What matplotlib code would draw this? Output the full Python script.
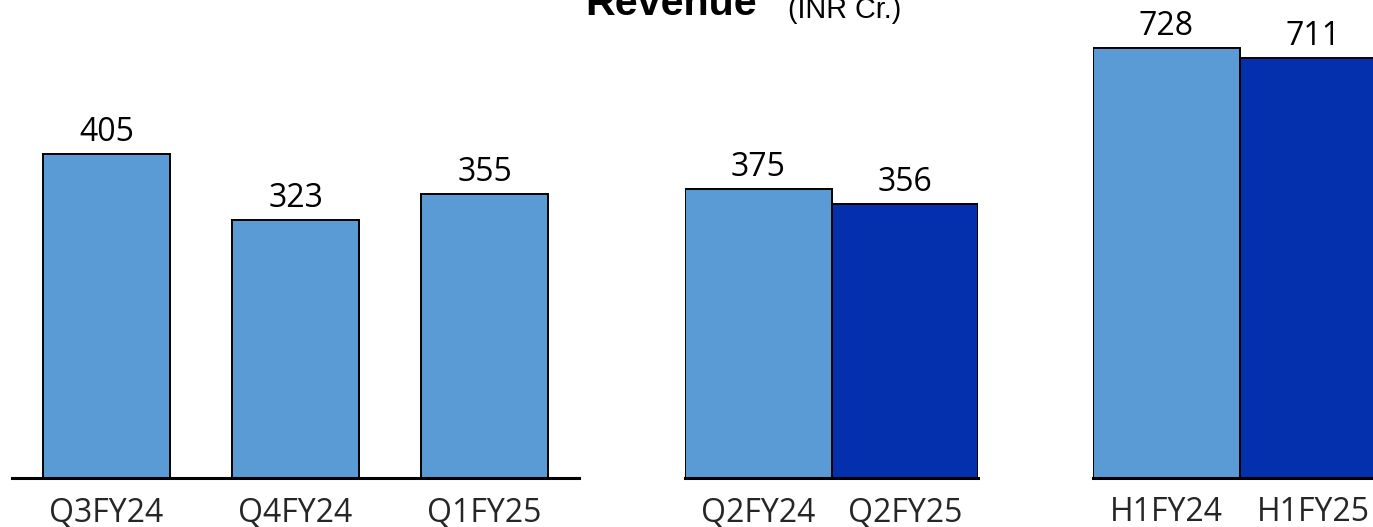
import matplotlib
matplotlib.use("Agg")
import matplotlib.pyplot as plt

# ---- data ----
quarter_labels = ["Q3FY24", "Q4FY24", "Q1FY25"]
quarter_values = [405, 323, 355]
q2_labels = ["Q2FY24", "Q2FY25"]
q2_values = [375, 356]
h1_labels = ["H1FY24", "H1FY25"]
h1_values = [728, 711]

title_main = "Revenue"
title_unit = "(INR Cr.)"

LIGHT = "#5B9BD5"
DARK = "#0530AD"

W, H, DPI = 1373, 527, 100
fig = plt.figure(figsize=(W / DPI, H / DPI), dpi=DPI)

base_y = 478  # px from top

def make_ax(left_px, right_px, px_per_unit):
    ax = fig.add_axes([left_px / W, (H - base_y) / H,
                       (right_px - left_px) / W, base_y / H])
    ax.set_ylim(0, base_y / px_per_unit)
    for s in ["top", "left", "right"]:
        ax.spines[s].set_visible(False)
    ax.spines["bottom"].set_linewidth(2.2)
    ax.spines["bottom"].set_color("black")
    ax.set_yticks([])
    ax.patch.set_alpha(0)
    return ax

def draw(ax, labels, values, colors, width):
    x = list(range(len(values)))
    bars = ax.bar(x, values, width=width, color=colors, edgecolor="black",
                  linewidth=1.4, zorder=2)
    ax.set_xlim(-0.5, len(values) - 0.5)
    ax.set_xticks(x)
    ax.set_xticklabels(labels, fontsize=23, family="Open Sans", color="#262626")
    ax.tick_params(axis="x", length=0, pad=31)
    for t in ax.get_xticklabels():
        t.set_va("baseline")
    for b, v in zip(bars, values):
        ax.annotate(f"{v}", xy=(b.get_x() + b.get_width() / 2, v),
                    xytext=(0, 9.4), textcoords="offset points",
                    ha="center", va="baseline", fontsize=23,
                    family="Open Sans", color="black")

ax1 = make_ax(12, 579, 0.80)
draw(ax1, quarter_labels, quarter_values, [LIGHT] * 3, 0.672)

ax2 = make_ax(685, 978, 0.77)
draw(ax2, q2_labels, q2_values, [LIGHT, DARK], 1.0)

ax3 = make_ax(1093, 1387, 0.591)
draw(ax3, h1_labels, h1_values, [LIGHT, DARK], 1.0)

fig.text(757 / W, (H - 15) / H, title_main, ha="right", va="baseline",
         fontsize=29.7, fontweight="bold", family="Liberation Sans", color="black")
fig.text(788 / W, (H - 18) / H, title_unit, ha="left", va="baseline",
         fontsize=20.7, family="Liberation Sans", color="black")

fig.savefig("out.png", dpi=DPI)
